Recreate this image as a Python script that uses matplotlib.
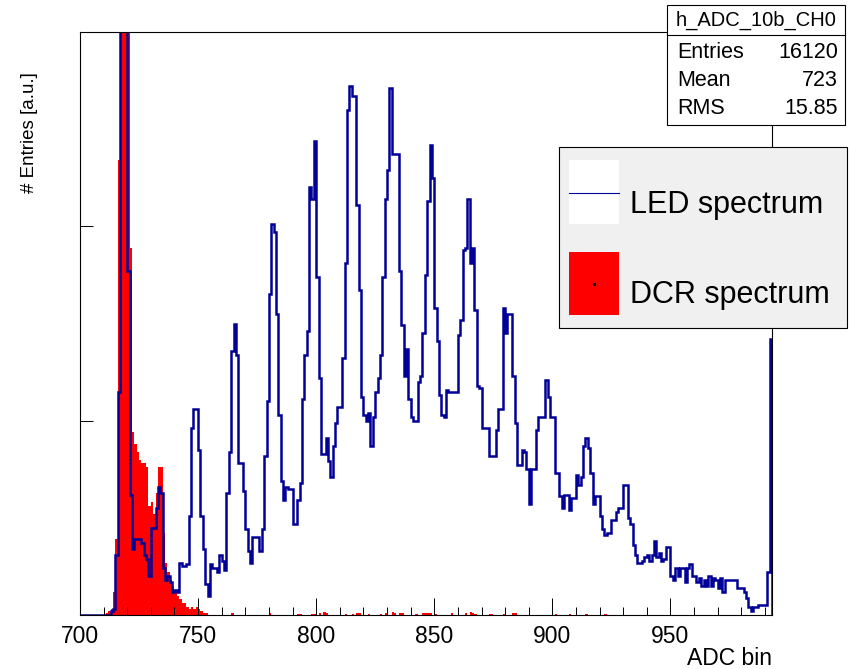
import numpy as np
import matplotlib
matplotlib.use("Agg")
import matplotlib.pyplot as plt
from matplotlib.patches import Rectangle
from matplotlib.lines import Line2D
from matplotlib.ticker import MultipleLocator

plt.rcParams['font.family'] = ['Liberation Sans', 'DejaVu Sans']

# ADC bins 700 .. 992 (width 1)
first_bin = 700
last_bin = 992

# LED spectrum, one value per bin starting at 700 (a.u.)
led_counts = [
    0, 0, 0, 0, 0, 0, 0, 0, 0, 0,                   # 700
    0, 0, 0, 2, 3, 31, 115, 420, 460, 380,          # 710
    177, 62, 34, 39, 39, 39, 37, 31, 29, 20,        # 720
    45, 45, 55, 66, 63, 24, 18, 20, 17, 12,         # 730
    13, 12, 27, 25, 25, 26, 51, 96, 106, 106,       # 740
    85, 51, 34, 16, 10, 26, 24, 24, 22, 31,         # 750
    28, 23, 63, 84, 136, 150, 134, 78, 78, 64,      # 760
    44, 33, 27, 40, 40, 40, 33, 44, 82, 110,        # 770
    165, 201, 197, 155, 103, 69, 59, 66, 65, 65,    # 780
    47, 47, 59, 68, 111, 134, 146, 220, 214, 244,   # 790
    174, 122, 83, 83, 91, 79, 71, 87, 99, 107,      # 800
    107, 132, 181, 260, 272, 267, 267, 211, 167, 112,  # 810
    103, 100, 104, 87, 102, 115, 122, 134, 174, 214,   # 820
    229, 271, 237, 237, 237, 177, 149, 123, 137, 111,  # 830
    102, 100, 100, 120, 123, 145, 175, 213, 242, 225,  # 840
    158, 141, 113, 103, 102, 116, 115, 115, 115, 115,  # 850
    144, 152, 188, 189, 214, 181, 189, 157, 118, 117,  # 860
    96, 96, 96, 82, 82, 82, 95, 106, 106, 158,      # 870
    145, 155, 155, 123, 99, 77, 77, 85, 84, 75,     # 880
    57, 75, 75, 95, 102, 102, 102, 121, 112, 102,   # 890
    102, 73, 73, 61, 55, 62, 62, 54, 60, 60,        # 900
    72, 67, 71, 87, 91, 86, 73, 57, 61, 61,         # 910
    51, 44, 41, 42, 42, 49, 49, 53, 55, 55,         # 920
    67, 67, 50, 47, 36, 31, 27, 27, 28, 30,         # 930
    31, 28, 31, 38, 30, 32, 28, 29, 35, 35,         # 940
    20, 18, 24, 20, 24, 24, 17, 24, 26, 20,         # 950
    20, 17, 19, 15, 18, 15, 20, 15, 19, 18,         # 960
    14, 19, 12, 18, 18, 18, 18, 18, 14, 14,         # 970
    14, 12, 9, 4, 2, 4, 4, 5, 5, 5,                 # 980
    5, 22, 142,                                     # 990
]

# DCR spectrum: main part from bin 711, then a sparse tail
dcr_core_start = 711
dcr_core = [
    1, 2, 3, 12, 39, 234, 420, 520, 470,            # 711-719
    330, 189, 94, 88, 84, 80, 78, 78, 76, 56,       # 720-729
    58, 52, 63, 76, 76, 42, 27, 22, 18, 15,         # 730-739
    12, 10, 8, 6, 6, 4, 3, 4, 3, 4,                 # 740-749
    3, 2, 1, 1,                                     # 750-753
]
dcr_tail_bins = [764, 780, 792, 793, 798, 799, 801, 803, 804, 812, 815, 817,
                 818, 822, 827, 829, 832, 833, 835, 836, 842, 845, 846, 847,
                 848, 850, 857, 863, 865, 866, 867, 873, 874, 879, 883, 884,
                 901, 907, 914, 922]
dcr_tail_vals = [1.0, 1.0, 0.7, 0.7, 0.7, 0.7, 1.0, 1.4, 1.0, 0.7, 0.7, 1.0,
                 1.0, 0.7, 0.5, 1.0, 1.7, 1.0, 0.8, 0.8, 0.7, 1.0, 1.0, 1.0,
                 1.0, 0.7, 0.8, 1.0, 1.7, 1.0, 0.7, 0.7, 0.7, 0.7, 1.0, 1.0,
                 0.5, 0.7, 0.7, 0.5]

stats_title = "h_ADC_10b_CH0"
stats_names = ["Entries", "Mean", "RMS"]
stats_values = ["16120", "723", "15.85"]
legend_labels = ["LED spectrum", "DCR spectrum"]

W, H = 851, 669


def fx(px):
    return px / W


def fy(py):
    return 1 - py / H


edges = np.arange(first_bin, last_bin + 2)
led = np.array(led_counts, dtype=float)
dcr = np.zeros(len(edges) - 1)
dcr[dcr_core_start - first_bin:dcr_core_start - first_bin + len(dcr_core)] = dcr_core
for b, v in zip(dcr_tail_bins, dcr_tail_vals):
    dcr[b - first_bin] = v

fig = plt.figure(figsize=(W / 100, H / 100), dpi=100)
ax = fig.add_axes([fx(80), fy(615), (772 - 80) / W, (615 - 32) / H])

ax.stairs(dcr, edges, fill=True, color="#ff0000", lw=0)
ax.stairs(led, edges, color="#000099", lw=1.8)

ax.set_xlim(700, 993)
ax.set_ylim(0, 300)
ax.xaxis.set_minor_locator(MultipleLocator(10))
ax.set_xticks([700, 750, 800, 850, 900, 950])
ax.set_yticks([100, 200])
ax.tick_params(axis="x", which="major", direction="in", length=12, width=0.7,
               labelsize=16.5, pad=7)
ax.tick_params(axis="x", which="minor", direction="in", length=6, width=0.7)
ax.tick_params(axis="y", which="major", direction="in", length=9, width=0.7,
               labelleft=False)
for s in ax.spines.values():
    s.set_linewidth(0.8)

fig.text(fx(30), fy(72), "# Entries [a.u.]", rotation=90, ha="center",
         va="top", fontsize=13.5)
fig.text(fx(772), fy(665), "ADC bin", ha="right", va="baseline", fontsize=16.5)

# stats box
fig.add_artist(Rectangle((fx(667), fy(125)), (845 - 667) / W, (125 - 5) / H,
                         transform=fig.transFigure, fc="white", ec="black",
                         lw=0.8, zorder=5))
fig.add_artist(Line2D([fx(667), fx(845)], [fy(35), fy(35)],
                      transform=fig.transFigure, color="black", lw=0.8, zorder=6))
fig.text(fx(756), fy(20), stats_title, ha="center", va="center",
         fontsize=14.5, zorder=7)
for i, (n, v) in enumerate(zip(stats_names, stats_values)):
    yy = fy(53 + 28 * i)
    fig.text(fx(677), yy, n, ha="left", va="center", fontsize=15.5, zorder=7)
    fig.text(fx(838), yy, v, ha="right", va="center", fontsize=15.5, zorder=7)

# legend
fig.add_artist(Rectangle((fx(559), fy(328)), (847 - 559) / W, (328 - 147) / H,
                         transform=fig.transFigure, fc="#f0f0f0", ec="black",
                         lw=0.8, zorder=5))
fig.add_artist(Rectangle((fx(569), fy(224)), 50 / W, 64 / H,
                         transform=fig.transFigure, fc="white", ec="none",
                         zorder=6))
fig.add_artist(Line2D([fx(569), fx(619)], [fy(193), fy(193)],
                      transform=fig.transFigure, color="#000099", lw=0.8, zorder=7))
fig.add_artist(Rectangle((fx(569), fy(315)), 50 / W, 63 / H,
                         transform=fig.transFigure, fc="#ff0000", ec="none",
                         zorder=6))
fig.add_artist(Line2D([fx(594)], [fy(284)], transform=fig.transFigure,
                      marker="s", ms=1.2, color="black", lw=0, zorder=7))
fig.text(fx(630), fy(213), legend_labels[0], ha="left", va="baseline",
         fontsize=22, zorder=7)
fig.text(fx(630), fy(303), legend_labels[1], ha="left", va="baseline",
         fontsize=22, zorder=7)

fig.savefig("out.png", dpi=100)
